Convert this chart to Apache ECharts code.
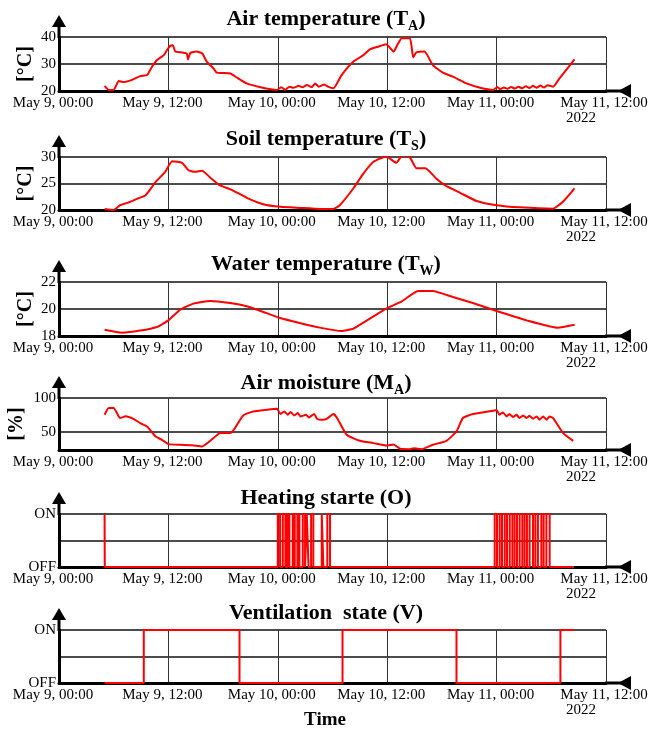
<!DOCTYPE html>
<html>
<head>
<meta charset="utf-8">
<script src="https://cdn.jsdelivr.net/npm/echarts@6/dist/echarts.min.js"></script>
<style>
  html, body { margin: 0; padding: 0; background: #fff; }
  #main { width: 652px; height: 731px; }
</style>
</head>
<body>
<div id="main"></div>
<script>
// hours since May 9, 00:00 (2022)
const tickLabels = ['May 9, 00:00', 'May 9, 12:00', 'May 10, 00:00', 'May 10, 12:00', 'May 11, 00:00', 'May 11, 12:00'];

const airTemp = [
  [5.0, 21.9], [5.45, 20.4], [6.0, 20.4], [6.55, 23.7], [7.1, 23.3], [8.0, 24.1], [8.9, 25.5], [9.66, 25.9],
  [10.2, 29.0], [10.75, 31.5], [11.5, 33.3], [11.85, 35.2], [12.2, 36.7], [12.5, 36.9], [12.75, 34.6], [13.5, 34.3],
  [14.0, 33.9], [14.15, 31.7], [14.4, 34.1], [15.1, 34.6], [15.7, 34.0], [16.2, 30.9], [16.95, 28.4], [17.3, 26.8],
  [18.8, 26.5], [19.5, 25.0], [20.6, 22.8], [22.1, 21.4], [23.9, 20.4], [24.4, 21.4], [24.8, 20.4], [25.3, 21.6],
  [25.7, 21.2], [26.3, 21.9], [26.7, 21.4], [27.2, 22.2], [27.7, 21.4], [28.1, 22.8], [28.5, 21.6], [29.1, 22.4],
  [29.5, 21.6], [30.1, 21.0], [31.0, 25.9], [32.3, 30.9], [33.4, 33.3], [34.1, 35.4], [35.0, 36.4], [35.9, 37.3],
  [36.7, 34.6], [37.1, 37.0], [37.6, 39.5], [38.5, 39.5], [38.85, 32.5], [39.2, 34.3], [40.1, 34.6], [41.0, 29.6],
  [42.1, 26.8], [43.2, 25.3], [44.7, 22.8], [46.2, 21.2], [47.6, 20.4], [48.1, 21.4], [48.4, 20.6], [48.8, 21.3],
  [49.2, 20.8], [49.6, 21.5], [50.0, 20.9], [50.4, 21.6], [50.8, 21.0], [51.2, 21.8], [51.6, 21.1], [52.0, 21.9],
  [52.4, 21.2], [52.8, 22.0], [53.2, 21.3], [53.6, 22.1], [54.2, 21.6], [54.9, 24.7], [56.55, 31.7]
];

const soilTemp = [
  [5.0, 20.2], [6.0, 20.0], [6.7, 20.9], [7.6, 21.4], [8.55, 22.1], [9.5, 22.8], [10.6, 25.3], [11.65, 27.2],
  [12.4, 29.2], [13.5, 28.9], [14.2, 27.5], [14.9, 27.2], [15.7, 27.4], [16.6, 26.1], [17.5, 24.8], [19.0, 23.75],
  [20.6, 22.3], [22.4, 21.1], [24.3, 20.6], [26.4, 20.4], [28.6, 20.2], [30.1, 20.2], [30.8, 20.9], [32.3, 24.1],
  [33.4, 26.9], [34.5, 29.1], [35.9, 30.1], [37.0, 28.9], [37.7, 30.4], [38.5, 29.9], [39.2, 27.9], [40.2, 27.9],
  [41.4, 25.9], [42.5, 24.5], [44.0, 23.25], [45.8, 21.7], [48.0, 20.9], [50.5, 20.5], [54.2, 20.25], [55.3, 21.6],
  [56.55, 24.1]
];

const waterTemp = [
  [5.0, 18.47], [6.9, 18.25], [8.9, 18.4], [10.75, 18.67], [12.0, 19.16], [13.3, 19.95], [14.75, 20.4], [16.6, 20.6],
  [18.8, 20.44], [20.6, 20.2], [22.4, 19.78], [24.25, 19.33], [26.4, 18.96], [28.6, 18.62], [31.0, 18.37], [32.3, 18.55],
  [34.1, 19.29], [35.9, 20.03], [37.6, 20.57], [39.4, 21.33], [41.0, 21.33], [43.2, 20.89], [45.4, 20.44], [48.0, 19.85],
  [51.3, 19.16], [54.7, 18.62], [56.55, 18.84]
];

const airMoisture = [
  [5.0, 75.2], [5.45, 85.2], [6.0, 85.2], [6.7, 70.3], [7.3, 72.8], [8.2, 68.8], [8.9, 62.9], [9.66, 57.9],
  [10.6, 43.0], [11.3, 38.1], [12.0, 31.7], [13.3, 30.7], [14.6, 30.2], [15.7, 28.2], [16.6, 36.6], [17.7, 48.1],
  [18.8, 48.1], [19.3, 55.5], [20.2, 74.2], [21.3, 80.1], [22.8, 82.6], [23.9, 84.1], [24.3, 76.2], [24.7, 80.1],
  [25.1, 75.2], [25.4, 79.2], [25.8, 74.2], [26.2, 77.7], [26.5, 72.7], [27.1, 75.2], [27.4, 71.2], [28.0, 76.2],
  [28.3, 69.3], [28.9, 67.8], [29.4, 69.5], [30.1, 76.2], [30.5, 70.5], [31.55, 45.5], [33.0, 36.6], [34.5, 33.2],
  [35.9, 29.7], [36.7, 31.3], [37.4, 24.8], [38.5, 24.2], [38.9, 25.6], [39.8, 24.2], [41.0, 30.7], [42.5, 36.6],
  [43.6, 50.5], [44.3, 70.3], [45.4, 76.2], [47.6, 81.2], [48.0, 82.3], [48.3, 75.2], [48.7, 78.6], [49.1, 72.7],
  [49.4, 76.2], [49.8, 71.8], [50.2, 75.2], [50.5, 70.3], [50.9, 74.2], [51.3, 70.3], [51.6, 73.7], [52.0, 69.3],
  [52.4, 72.7], [52.7, 67.8], [53.1, 72.7], [53.5, 67.8], [53.8, 72.7], [54.2, 70.3], [55.3, 48.1], [56.4, 36.6]
];

// state changes: [hour, 1 = ON / 0 = OFF]
const heating = [
  [5.0, 1], [5.02, 0],
  [24.0, 1], [24.25, 0], [24.55, 1], [24.83, 0], [25.05, 1], [25.27, 0], [25.64, 1], [25.86, 0],
  [26.15, 1], [26.37, 0], [26.74, 1], [26.99, 0], [27.18, 1], [27.37, 0], [27.65, 1], [27.9, 0],
  [28.82, 1], [29.0, 0], [29.43, 1], [29.73, 0],
  [47.79, 1], [48.05, 0], [48.34, 1], [48.59, 0], [48.89, 1], [49.14, 0], [49.44, 1], [49.73, 0],
  [49.98, 1], [50.24, 0], [50.53, 1], [50.82, 0], [51.07, 1], [51.33, 0], [51.62, 1], [51.99, 0],
  [52.25, 1], [52.53, 0], [52.91, 1], [53.16, 0], [53.46, 1], [53.82, 0],
  [56.5, 0]
];

const ventilation = [
  [5.0, 0], [9.3, 1], [19.8, 0], [31.1, 1], [43.6, 0], [55.0, 1], [56.5, 1]
];

const titles = [
  '{b|Air temperature (T}{s|A}{b|)}',
  '{b|Soil temperature (T}{s|S}{b|)}',
  '{b|Water temperature (T}{s|W}{b|)}',
  '{b|Air moisture (M}{s|A}{b|)}',
  '{b|Heating starte (O)}',
  '{b|Ventilation  state (V)}'
];
const units = ['[°C]', '[°C]', '[°C]', '[%]', '', ''];
const unitGaps = [23, 23, 23, 32, 0, 0];

const font = 'Liberation Serif';
const L = 59, R = 46;
const tops = [37, 157, 282, 398, 514, 630];
const heights = [54, 53, 54, 52, 53, 53];
const titleTops = [6, 126, 251, 370, 487, 602];

const yCfg = [
  { min: 20, max: 40, vals: [20, 30, 40] },
  { min: 20, max: 30, vals: [20, 25, 30] },
  { min: 18, max: 22, vals: [18, 20, 22] },
  { min: 23, max: 100, vals: [50, 100] },
  { min: 0, max: 1, vals: [0, 0.5, 1], onoff: true },
  { min: 0, max: 1, vals: [0, 0.5, 1], onoff: true }
];
const seriesData = [airTemp, soilTemp, waterTemp, airMoisture, heating, ventilation];

const chart = echarts.init(document.getElementById('main'), null, { renderer: 'canvas' });

const grids = [], xAxes = [], yAxes = [], series = [], title = [], graphic = [];
for (let i = 0; i < 6; i++) {
  grids.push({ left: L, right: R, top: tops[i], height: heights[i], outerBoundsMode: 'none', containLabel: false });
  title.push({
    text: titles[i], left: 'center', top: titleTops[i], padding: 0,
    textStyle: {
      rich: {
        b: { fontFamily: font, fontWeight: 'bold', fontSize: 22, color: '#000' },
        s: { fontFamily: font, fontWeight: 'bold', fontSize: 14, color: '#000', verticalAlign: 'bottom', padding: [13, 0, 0, 0] }
      }
    }
  });
  xAxes.push({
    type: 'value', gridIndex: i, min: 0, max: 60, interval: 12,
    axisLine: { show: true, lineStyle: { color: '#000', width: 3 } },
    axisTick: { show: false },
    splitLine: { show: true, lineStyle: { color: '#333', width: 1 } },
    axisLabel: {
      color: '#000', fontFamily: font, fontSize: 15, margin: 5, hideOverlap: false,
      showMinLabel: true, showMaxLabel: true,
      formatter: v => {
        const k = Math.round(v / 12);
        return (k === 5 ? '{e|' : '{a|') + tickLabels[k] + '}';
      },
      rich: {
        a: { fontFamily: font, fontSize: 15, color: '#000', padding: [0, 12, 0, 0] },
        e: { fontFamily: font, fontSize: 15, color: '#000', padding: [0, 4, 0, 0] }
      }
    }
  });
  const yc = yCfg[i];
  yAxes.push({
    type: 'value', gridIndex: i, min: yc.min, max: yc.max,
    name: units[i], nameLocation: 'middle', nameGap: unitGaps[i], nameRotate: 90, nameMoveOverlap: false,
    nameTextStyle: { fontFamily: font, fontWeight: 'bold', fontSize: 20, color: '#000' },
    axisLine: { show: true, lineStyle: { color: '#000', width: 3 } },
    axisTick: { show: false, customValues: yc.vals },
    splitLine: { show: true, lineStyle: { color: '#111', width: 1.5 } },
    axisLabel: {
      color: '#000', fontFamily: font, fontSize: 15, margin: 3, customValues: yc.vals,
      formatter: yc.onoff ? (v => v === 1 ? 'ON' : v === 0 ? 'OFF' : '') : (v => String(v))
    }
  });
  series.push({
    type: 'line', xAxisIndex: i, yAxisIndex: i, data: seriesData[i],
    showSymbol: false, smooth: yc.onoff ? false : 0.15, step: yc.onoff ? 'end' : false,
    lineStyle: { color: '#ff0000', width: 2 }, silent: true, animation: false
  });

  // axis arrows
  const top = tops[i], bottom = tops[i] + heights[i], right = 652 - R;
  graphic.push(
    { type: 'line', shape: { x1: L, y1: top + 1, x2: L, y2: top - 10 }, style: { stroke: '#000', lineWidth: 3 } },
    { type: 'polygon', shape: { points: [[L - 7, top - 10], [L + 7, top - 10], [L, top - 22]] }, style: { fill: '#000' } },
    { type: 'line', shape: { x1: right - 1, y1: bottom, x2: 630, y2: bottom }, style: { stroke: '#000', lineWidth: 3 } },
    { type: 'polygon', shape: { points: [[618, bottom], [631, bottom - 7], [631, bottom + 7]] }, style: { fill: '#000' } },
    { type: 'text', x: 581, y: bottom + 20, style: { text: '2022', fontFamily: font, fontSize: 15, fill: '#000', align: 'center' } }
  );
}
graphic.push({ type: 'text', x: 325, y: 711, style: { text: 'Time', fontFamily: font, fontWeight: 'bold', fontSize: 19, fill: '#000', align: 'center' } });

chart.setOption({
  animation: false,
  backgroundColor: '#fff',
  title: title,
  grid: grids,
  xAxis: xAxes,
  yAxis: yAxes,
  series: series,
  graphic: graphic
});
</script>
</body>
</html>
